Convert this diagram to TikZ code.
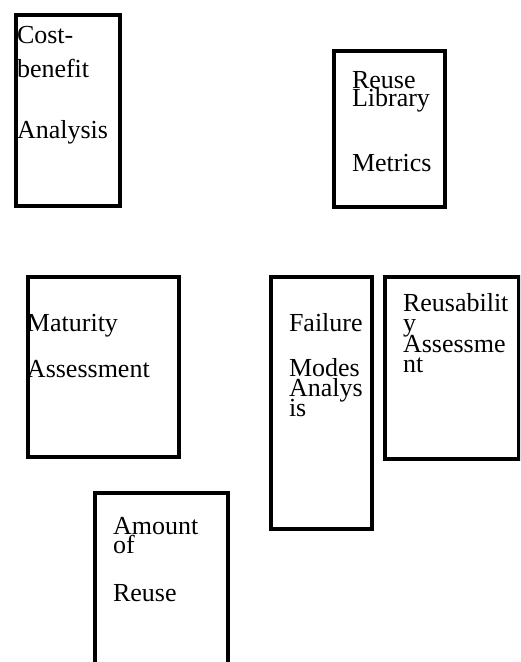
\documentclass[tikz,border=0pt]{standalone}
\usepackage{fontspec}
\setmainfont{Liberation Serif}
\newcommand{\boxfont}[1]{\fontsize{26pt}{#1}\selectfont\lineskiplimit=-100pt\lineskip=0pt\relax}
\begin{document}
\begin{tikzpicture}[x=1pt,y=-1pt,
  box/.style={draw=black,line width=4pt,fill=none,inner sep=0pt,outer sep=0pt,anchor=north west},
  txt/.style={inner sep=0pt,outer sep=0pt,anchor=base west,align=left}]
\useasboundingbox (0,0) rectangle (520,662);
\clip (0,0) rectangle (520,662);
\fill[white] (0,0) rectangle (520,662);
% boxes (corner points are line centres)
\node[box,minimum width=104pt,minimum height=191pt] (cba) at (16,15) {};
\node[box,minimum width=111pt,minimum height=156pt] (rlm) at (334,51) {};
\node[box,minimum width=151pt,minimum height=180pt] (ma) at (28,277) {};
\node[box,minimum width=101pt,minimum height=252pt] (fma) at (271,277) {};
\node[box,minimum width=133.5pt,minimum height=182pt] (ra) at (385,277) {};
\node[box,minimum width=133pt,minimum height=230pt] (aor) at (95,493) {};
% texts (anchored at the baseline of their last line)
\node[txt,font=\boxfont{34pt}] (cbat) at (17,138) {Cost-\\benefit\\[27pt]Analysis};
\node[txt,font=\boxfont{18pt}] (rlmt) at (352,171) {Reuse\\Library\\[47pt]Metrics};
\node[txt,font=\boxfont{46pt}] (mat) at (27,377) {Maturity\\Assessment};
\node[txt,font=\boxfont{20pt}] (fmat) at (289,416) {Failure\\[25pt]Modes\\Analys\\is};
\node[txt,font=\boxfont{20.5pt}] (rat) at (403,372.5) {Reusabilit\\y\\Assessme\\nt};
\node[txt,font=\boxfont{19pt}] (aort) at (113,601) {Amount\\of\\[29pt]Reuse};
\end{tikzpicture}
\end{document}
